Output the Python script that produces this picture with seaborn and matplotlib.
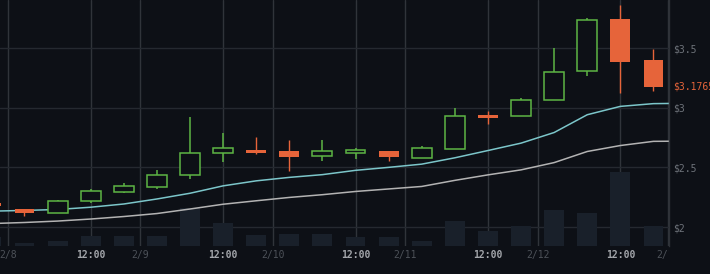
import numpy as np
import seaborn as sns
import matplotlib.pyplot as plt
from matplotlib.transforms import Bbox, offset_copy

# 6h candles, slot 0 = first full candle on screen
slot = list(range(-1, 20))
opens = [2.202, 2.149, 2.121, 2.221, 2.294, 2.339, 2.440, 2.624, 2.647, 2.636, 2.597,
         2.624, 2.641, 2.580, 2.658, 2.939, 2.927, 3.067, 3.308, 3.745, 3.403]
closes = [2.176, 2.121, 2.216, 2.300, 2.345, 2.434, 2.619, 2.664, 2.624, 2.586, 2.636,
          2.647, 2.586, 2.664, 2.933, 2.910, 3.067, 3.303, 3.739, 3.387, 3.1765]
highs = [2.210, 2.152, 2.227, 2.322, 2.367, 2.479, 2.922, 2.787, 2.754, 2.731, 2.731,
         2.664, 2.641, 2.681, 2.994, 2.972, 3.084, 3.498, 3.750, 3.857, 3.493]
lows = [2.170, 2.092, 2.118, 2.204, 2.283, 2.317, 2.406, 2.546, 2.608, 2.468, 2.557,
        2.569, 2.552, 2.580, 2.655, 2.866, 2.927, 3.061, 3.269, 3.124, 3.140]
volume = [88, 25, 42, 92, 98, 98, 372, 222, 105, 115, 115,
          82, 82, 48, 245, 145, 198, 358, 328, 735, 198]

# moving averages (one extra point past the last candle)
ma_slot = list(range(-1, 21))
ma_fast = [2.133, 2.139, 2.147, 2.166, 2.193, 2.235, 2.283, 2.345, 2.387, 2.416, 2.439,
           2.475, 2.500, 2.527, 2.580, 2.641, 2.703, 2.792, 2.941, 3.011, 3.034, 3.037]
ma_slow = [2.029, 2.038, 2.050, 2.067, 2.088, 2.113, 2.151, 2.191, 2.220, 2.248, 2.271,
           2.298, 2.319, 2.340, 2.391, 2.437, 2.479, 2.540, 2.633, 2.683, 2.718, 2.720]
last_price = 3.1765

# x ticks: day boundaries and noon
tick_pos = [-0.5, 2, 3.5, 6, 7.5, 10, 11.5, 14, 15.5, 18, 19.45]
tick_lab = ['2/8', '12:00', '2/9', '12:00', '2/10', '12:00', '2/11', '12:00', '2/12', '12:00', '2/13']
price_ticks = [2, 2.5, 3, 3.5]
price_labels = ['$2', '$2.5', '$3', '$3.5']

bg = '#0d1016'
green = '#5db544'
orange = '#e6643a'

sns.set_theme(style='dark', rc={'axes.facecolor': bg, 'figure.facecolor': bg})
plt.rcParams['font.family'] = ['DejaVu Sans Mono']

fig = plt.figure(figsize=(7.1, 2.74), dpi=100)
rect = [0, 1 - 245.5 / 274, 669 / 710, 245.5 / 274]

# bottom layer: grid only
axg = fig.add_axes(rect)
axg.set_zorder(0)
axg.set_facecolor(bg)
axg.set_xlim(-0.74, 19.47)
axg.set_ylim(1.8452, 3.9025)
axg.set_xticks(tick_pos)
axg.set_yticks(price_ticks)
axg.tick_params(length=0, labelbottom=False, labelleft=False)
axg.grid(axis='y', color='#252930', lw=1)
axg.grid(axis='x', color='#30343a', lw=1)
for s in axg.spines.values():
    s.set_visible(False)

# middle layer: volume
ax2 = fig.add_axes(rect, sharex=axg)
ax2.set_zorder(1)
ax2.patch.set_visible(False)
ax2.bar(slot, volume, width=0.6, color='#19202a', linewidth=0)
ax2.set_ylim(0, 2455)
ax2.set_yticks([])
ax2.tick_params(length=0, labelbottom=False)
ax2.grid(False)
for s in ax2.spines.values():
    s.set_visible(False)

# top layer: price
ax = fig.add_axes(rect, sharex=axg)
ax.set_zorder(2)
ax.patch.set_visible(False)
ax.grid(False)

o = np.array(opens)
c = np.array(closes)
h = np.array(highs)
l = np.array(lows)
x = np.array(slot)
up = c >= o
dn = ~up

# candles
ax.vlines(x[up], l[up], h[up], color=green, lw=1.1, zorder=2)
ax.bar(x[up], c[up] - o[up], bottom=o[up], width=0.6, facecolor=bg,
       edgecolor=green, linewidth=1.1, zorder=3)
ax.vlines(x[dn], l[dn], h[dn], color=orange, lw=1.0, zorder=2)
ax.bar(x[dn], o[dn] - c[dn], bottom=c[dn], width=0.6, color=orange,
       linewidth=0, zorder=3)

# moving averages
sns.lineplot(x=ma_slot, y=ma_slow, ax=ax, color='#b3b3b3', lw=1.1, zorder=2.5)
sns.lineplot(x=ma_slot, y=ma_fast, ax=ax, color='#7cc6ca', lw=1.1, zorder=2.5)

ax.set_xlim(-0.74, 19.47)
ax.set_ylim(1.8452, 3.9025)

ax.yaxis.tick_right()
ax.set_yticks(price_ticks)
ax.set_yticklabels(price_labels)
ax.set_xticks(tick_pos)
ax.set_xticklabels(tick_lab)
ax.set_xlabel('')
ax.set_ylabel('')
ax.tick_params(axis='y', length=0, pad=2.9, labelsize=7, labelcolor='#6e737a')
ax.tick_params(axis='x', length=0, pad=3.2, labelsize=7)

for s in ['left', 'top', 'bottom']:
    ax.spines[s].set_visible(False)
ax.spines['right'].set_color('#2e3238')
ax.spines['right'].set_linewidth(1)

clip = Bbox([[0, 0], [669, 274]])
for lab in ax.get_xticklabels():
    if lab.get_text() == '12:00':
        lab.set_color('#a3a6ab')
        lab.set_fontweight('bold')
    else:
        lab.set_color('#4d5259')
    lab.set_clip_box(clip)
    lab.set_clip_on(True)

ax.text(1, last_price, '$%.4f' % last_price, color=orange, fontsize=7,
        ha='left', va='center', clip_on=False,
        transform=offset_copy(ax.get_yaxis_transform(), fig=fig, x=4, units='dots'))

fig.savefig('out.png', dpi=100, facecolor=bg)
plt.close()
